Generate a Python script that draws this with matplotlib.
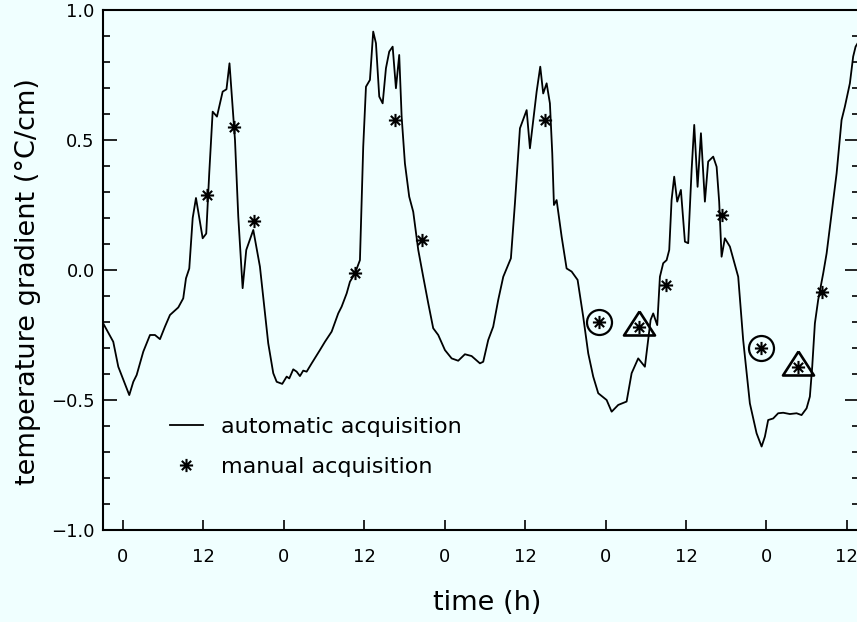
import matplotlib
matplotlib.use('Agg')
import matplotlib.pyplot as plt
from matplotlib.path import Path
from matplotlib.ticker import FixedLocator, MultipleLocator

# automatic acquisition (time in h, gradient in C/cm)
auto_t = [-2.98, -1.45, -0.70, 0.94, 1.54, 2.04, 3.03, 4.03, 4.77, 5.52, 6.26,
          7.01, 8.25, 8.99, 9.40, 9.89, 10.40, 10.89, 11.89, 12.42, 12.87, 13.38,
          14.02, 14.87, 15.44, 15.89, 16.21, 16.71, 17.20, 17.85, 18.39, 19.44,
          20.43, 21.18, 21.67, 22.42, 22.93, 23.76, 24.42, 24.81, 25.40, 25.91,
          26.40, 26.89, 27.40, 28.15, 29.38, 30.13, 31.13, 32.11, 32.62, 33.37,
          33.86, 34.61, 35.35, 35.84, 36.25, 36.84, 37.33, 37.74, 38.23, 38.74,
          39.23, 39.72, 40.23, 40.72, 41.21, 41.57, 42.06, 42.70, 43.30, 44.05,
          44.79, 45.54, 46.28, 47.03, 48.03, 49.03, 50.01, 51.01, 52.01, 53.25,
          53.74, 54.49, 55.23, 55.98, 56.73, 57.87, 58.47, 59.22, 60.22, 60.71,
          61.71, 62.25, 62.69, 63.20, 63.69, 64.04, 64.29, 64.69, 65.44, 66.18,
          66.93, 67.82, 68.66, 69.41, 70.15, 70.90, 72.15, 72.90, 73.88, 75.13,
          75.88, 76.86, 77.86, 78.35, 78.71, 79.10, 79.70, 80.10, 80.59, 81.10,
          81.49, 81.84, 82.23, 82.68, 83.23, 83.83, 84.32, 84.83, 85.22, 85.72,
          86.22, 86.81, 87.30, 88.05, 88.56, 88.94, 89.30, 89.79, 90.54, 91.78,
          92.52, 93.52, 94.52, 95.27, 95.76, 96.25, 97.00, 97.74, 98.49, 99.49,
          100.49, 101.23, 101.98, 102.47, 102.82, 103.22, 103.71, 104.46, 104.97,
          105.71, 106.46, 107.20, 107.69, 108.44, 108.93, 109.29, 109.78]
auto_g = [-0.204, -0.276, -0.372, -0.481, -0.430, -0.404, -0.314, -0.250, -0.250,
          -0.266, -0.218, -0.173, -0.144, -0.109, -0.032, 0.006, 0.200, 0.277,
          0.122, 0.140, 0.373, 0.609, 0.590, 0.686, 0.695, 0.795, 0.680, 0.500,
          0.205, -0.070, 0.077, 0.154, 0.013, -0.166, -0.282, -0.397, -0.430,
          -0.438, -0.410, -0.417, -0.382, -0.391, -0.408, -0.387, -0.391, -0.359,
          -0.308, -0.276, -0.237, -0.167, -0.141, -0.090, -0.045, -0.013, 0.038,
          0.474, 0.705, 0.731, 0.917, 0.872, 0.667, 0.641, 0.776, 0.840, 0.859,
          0.699, 0.827, 0.590, 0.410, 0.282, 0.224, 0.077, -0.026, -0.128, -0.224,
          -0.250, -0.308, -0.340, -0.349, -0.324, -0.331, -0.359, -0.353, -0.269,
          -0.218, -0.115, -0.026, 0.045, 0.256, 0.545, 0.615, 0.468, 0.686, 0.782,
          0.679, 0.718, 0.641, 0.449, 0.250, 0.269, 0.128, 0.006, -0.006, -0.038,
          -0.180, -0.321, -0.410, -0.474, -0.500, -0.545, -0.519, -0.506, -0.397,
          -0.340, -0.372, -0.269, -0.192, -0.167, -0.212, -0.026, 0.026, 0.038,
          0.077, 0.269, 0.359, 0.263, 0.308, 0.109, 0.103, 0.385, 0.558, 0.320,
          0.526, 0.263, 0.417, 0.436, 0.397, 0.263, 0.051, 0.122, 0.090, -0.026,
          -0.269, -0.513, -0.628, -0.679, -0.641, -0.577, -0.571, -0.551, -0.549,
          -0.554, -0.551, -0.558, -0.532, -0.487, -0.372, -0.205, -0.115, -0.013,
          0.064, 0.218, 0.372, 0.577, 0.628, 0.718, 0.821, 0.859, 0.880]

# manual acquisition
manual_t = [12.57, 16.60, 19.54, 34.61, 40.62, 44.55, 63.02, 71.00, 76.92,
            80.97, 89.42, 95.12, 100.76, 104.31]
manual_g = [0.288, 0.551, 0.190, -0.012, 0.577, 0.115, 0.577, -0.199, -0.218,
            -0.058, 0.212, -0.301, -0.372, -0.083]

# highlighted manual points
circle_t = [71.00, 95.12]
circle_g = [-0.199, -0.301]
triangle_t = [76.92, 100.76]
triangle_g = [-0.218, -0.372]

xtick_pos = [0, 12, 24, 36, 48, 60, 72, 84, 96, 108]
xtick_labels = ["0", "12", "0", "12", "0", "12", "0", "12", "0", "12"]
ytick_pos = [-1.0, -0.5, 0.0, 0.5, 1.0]
ytick_labels = ["\u22121.0", "\u22120.5", "0.0", "0.5", "1.0"]

bg = "#f0ffff"

# 8-arm asterisk and a triangle centred on its centroid
d = 0.7071
star = Path([(-1, 0), (1, 0), (0, -1), (0, 1), (-d, -d), (d, d), (-d, d), (d, -d)],
            [Path.MOVETO, Path.LINETO] * 4)
tri = [(0, 2), (-1.94, -1), (1.94, -1), (0, 2)]

fig = plt.figure(figsize=(8.57, 6.22), dpi=100, facecolor=bg)
ax = fig.add_axes([103 / 857, 92 / 622, 756 / 857, 520 / 622], facecolor=bg)

ax.plot(auto_t, auto_g, color="black", lw=1.3, label="automatic acquisition")
ax.plot(manual_t, manual_g, ls="none", marker=star, ms=9.5, mew=1.5,
        mec="black", mfc="none", label="manual acquisition")
ax.plot(circle_t, circle_g, ls="none", marker="o", ms=18, mew=1.6,
        mec="black", mfc="none")
ax.plot(triangle_t, triangle_g, ls="none", marker=tri, ms=23, mew=1.9,
        mec="black", mfc="none")

ax.set_xlim(-2.98, 109.8)
ax.set_ylim(-1.0, 1.0)

ax.xaxis.set_major_locator(FixedLocator(xtick_pos))
ax.set_xticklabels(xtick_labels)
ax.yaxis.set_major_locator(FixedLocator(ytick_pos))
ax.set_yticklabels(ytick_labels)
ax.yaxis.set_minor_locator(MultipleLocator(0.1))

ax.tick_params(axis="x", which="major", direction="in", length=7, width=1.2,
               pad=13, labelsize=13)
ax.tick_params(axis="y", which="major", direction="in", length=10, width=1.2,
               pad=6, labelsize=13, right=True)
ax.tick_params(axis="y", which="minor", direction="in", length=5, width=1.2,
               right=True)
for s in ax.spines.values():
    s.set_linewidth(1.5)

fig.text(28 / 857, 1 - 282 / 622, "temperature gradient (\u00b0C/cm)",
         rotation=90, ha="center", va="center", fontsize=19.5)
fig.text(487 / 857, 1 - 603 / 622, "time (h)", ha="center", va="center",
         fontsize=19.5)

ax.legend(loc="upper left", bbox_to_anchor=(0.088, 0.218), frameon=False,
          fontsize=16, handlelength=1.5, handletextpad=0.8, labelspacing=0.9,
          borderpad=0, borderaxespad=0)

fig.savefig("out.png", dpi=100, facecolor=bg)
plt.close()
